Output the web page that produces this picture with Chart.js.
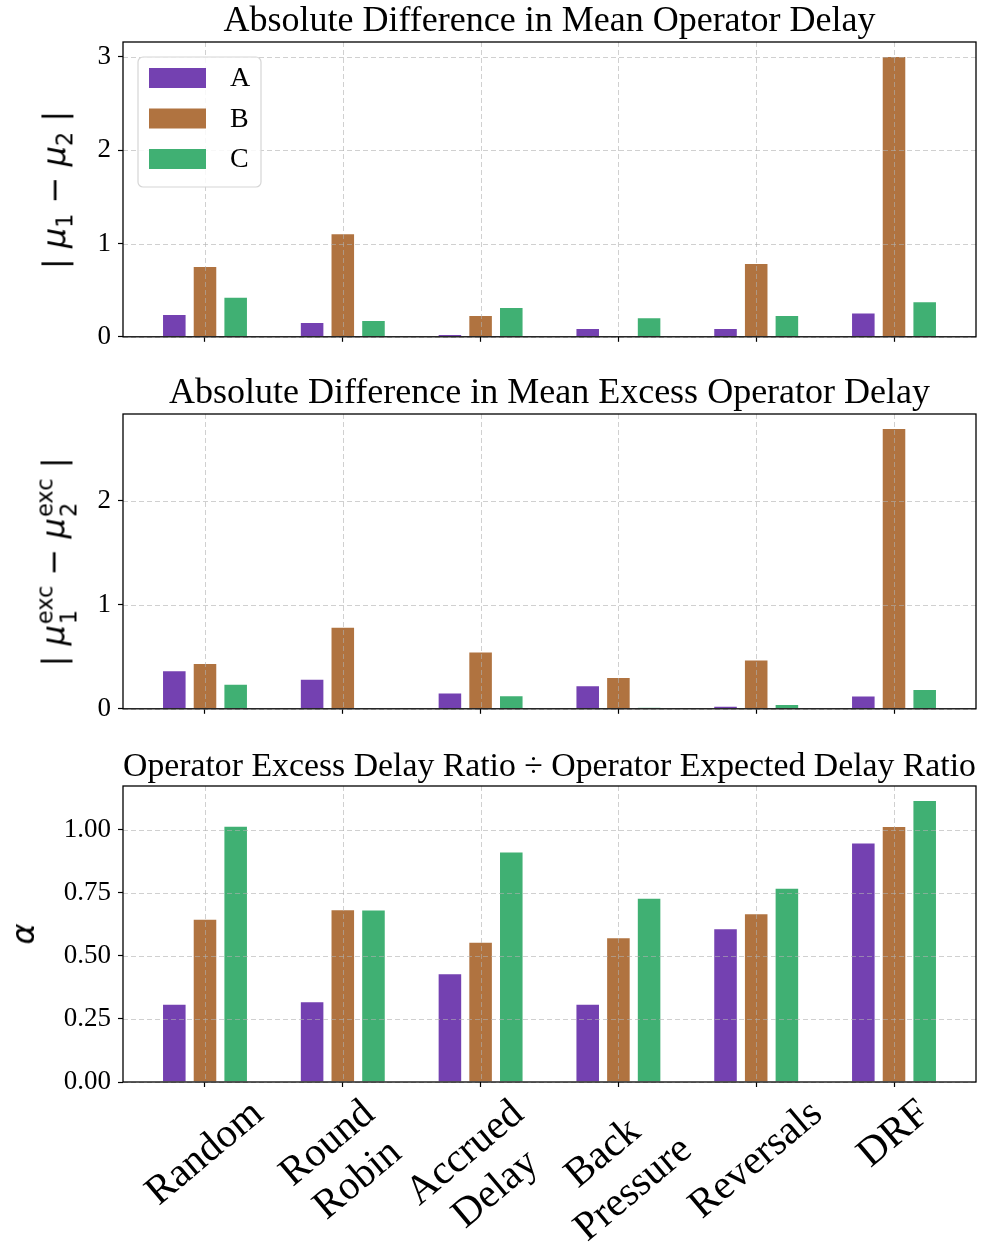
<!DOCTYPE html>
<html lang="en">
<head>
  <meta charset="UTF-8">
  <title>Operator Delay Comparison</title>
  <script src="https://cdn.jsdelivr.net/npm/chart.js"></script>
  <style>
    body {
      margin: 0;
      background: #fff;
    }
    .page {
      position: relative;
      width: 987px;
      height: 1247px;
      overflow: hidden;
    }
    .page canvas {
      position: absolute;
      left: 0;
    }
    .ylabel {
      position: absolute;
      transform: translate(-50%, -50%) rotate(-90deg);
      font-family: 'DejaVu Sans', sans-serif;
      font-size: 32px;
      line-height: 1;
      white-space: nowrap;
      color: #000;
    }
    .ylabel sub {
      font-size: 0.7em;
      vertical-align: -0.3em;
    }
    .ss {
      display: inline-flex;
      flex-direction: column;
      font-size: 0.7em;
      line-height: 1.05;
      vertical-align: 0.55em;
      margin-left: 1px;
    }
  </style>
</head>
<body>
<div class="page">
  <canvas id="chartMean" width="987" height="360" style="top:0"></canvas>
  <canvas id="chartExcess" width="987" height="360" style="top:372px"></canvas>
  <canvas id="chartRatio" width="987" height="503" style="top:744px"></canvas>

  <div class="ylabel" style="left:57px; top:190px">|&nbsp;<i>μ</i><sub>1</sub> − <i>μ</i><sub>2</sub>&nbsp;|</div>
  <div class="ylabel" style="left:57px; top:562px">|&nbsp;<i>μ</i><span class="ss"><span>exc</span><span>1</span></span> − <i>μ</i><span class="ss"><span>exc</span><span>2</span></span>&nbsp;|</div>
  <div class="ylabel" style="left:23px; top:934px"><i>α</i></div>
</div>

<script>
  // categories (multi-line tick labels)
  const categories = [['Random'], ['Round', 'Robin'], ['Accrued', 'Delay'], ['Back', 'Pressure'], ['Reversals'], ['DRF']];
  const seriesNames = ['A', 'B', 'C'];

  // |mu1 - mu2|
  const meanA = [0.245, 0.16, 0.03, 0.095, 0.095, 0.26];
  const meanB = [0.76, 1.11, 0.235, 0.005, 0.79, 3.01];
  const meanC = [0.43, 0.18, 0.32, 0.21, 0.235, 0.38];

  // |mu1^exc - mu2^exc|
  const excessA = [0.37, 0.29, 0.157, 0.227, 0.03, 0.128];
  const excessB = [0.44, 0.79, 0.55, 0.307, 0.474, 2.70];
  const excessC = [0.24, 0, 0.13, 0.016, 0.045, 0.19];

  // alpha
  const ratioA = [0.31, 0.32, 0.431, 0.31, 0.61, 0.95];
  const ratioB = [0.647, 0.685, 0.556, 0.574, 0.669, 1.015];
  const ratioC = [1.016, 0.684, 0.914, 0.731, 0.77, 1.118];

  const colors = ['#7441B1', '#B07340', '#40B073'];
  const serif = "'Liberation Serif', 'Times New Roman', serif";

  // dashed grid drawn on top of the bars + black frame
  const gridOnTop = {
    id: 'gridOnTop',
    afterDatasetsDraw(chart) {
      const { ctx, chartArea: a, scales: { x, y } } = chart;
      ctx.save();
      ctx.strokeStyle = 'rgba(176,176,176,0.6)';
      ctx.lineWidth = 1;
      ctx.setLineDash([5, 3]);
      ctx.beginPath();
      x.ticks.forEach(t => {
        const px = Math.round(x.getPixelForValue(t.value)) + 0.5;
        ctx.moveTo(px, a.top);
        ctx.lineTo(px, a.bottom);
      });
      y.ticks.forEach(t => {
        const py = Math.round(y.getPixelForValue(t.value)) + 0.5;
        ctx.moveTo(a.left, py);
        ctx.lineTo(a.right, py);
      });
      ctx.stroke();
      ctx.setLineDash([]);
      ctx.strokeStyle = '#000';
      ctx.lineWidth = 1.3;
      ctx.strokeRect(a.left, a.top, a.right - a.left, a.bottom - a.top);
      ctx.restore();
    }
  };

  // legend box in the upper left of the first panel
  const boxLegend = {
    id: 'boxLegend',
    afterDraw(chart) {
      const { ctx, chartArea: a } = chart;
      const x0 = a.left + 15, y0 = a.top + 15, w = 123, h = 130;
      ctx.save();
      ctx.beginPath();
      ctx.roundRect(x0, y0, w, h, 5);
      ctx.fillStyle = 'rgba(255,255,255,0.85)';
      ctx.fill();
      ctx.strokeStyle = '#d6d6d6';
      ctx.lineWidth = 1.2;
      ctx.stroke();
      ctx.font = '28px ' + serif;
      ctx.textBaseline = 'middle';
      chart.data.datasets.forEach((ds, i) => {
        const cy = y0 + 21 + i * 40.5;
        ctx.fillStyle = ds.backgroundColor;
        ctx.fillRect(x0 + 11, cy - 10, 57, 20);
        ctx.fillStyle = '#000';
        ctx.fillText(ds.label, x0 + 92, cy + 1);
      });
      ctx.restore();
    }
  };

  // rotated, centred category labels under the last panel
  const rotatedLabels = {
    id: 'rotatedLabels',
    afterDraw(chart) {
      const { ctx, chartArea, scales: { x } } = chart;
      const fs = 41, lh = fs * 1.15, ang = 40 * Math.PI / 180;
      ctx.save();
      ctx.font = fs + 'px ' + serif;
      ctx.fillStyle = '#000';
      ctx.textAlign = 'center';
      ctx.textBaseline = 'middle';
      categories.forEach((lines, i) => {
        const w = Math.max(...lines.map(s => ctx.measureText(s).width));
        const h = lh * (lines.length - 1) + fs * 1.0;
        const boxH = w * Math.sin(ang) + h * Math.cos(ang);
        const cx = x.getPixelForValue(i);
        const cy = chartArea.bottom + 11 + boxH / 2;
        ctx.save();
        ctx.translate(cx, cy);
        ctx.rotate(-ang);
        lines.forEach((s, k) => ctx.fillText(s, 0, (k - (lines.length - 1) / 2) * lh));
        ctx.restore();
      });
      ctx.restore();
    }
  };

  function makeChart(id, title, titleSize, series, yStep, decimals, xAxisHeight, plugins) {
    const yMax = Math.max(...series.flat()) * 1.05;
    return new Chart(document.getElementById(id), {
      type: 'bar',
      data: {
        datasets: series.map((vals, s) => ({
          label: seriesNames[s],
          data: vals.map((v, i) => ({ x: i, y: v })),
          backgroundColor: colors[s],
          borderColor: 'rgba(255,255,255,0.6)',
          borderWidth: 1,
          barPercentage: 0.8,
          categoryPercentage: 0.668
        }))
      },
      options: {
        responsive: false,
        animation: false,
        layout: { padding: { left: 0, right: 11, top: 0, bottom: 0 } },
        plugins: {
          legend: { display: false },
          tooltip: { enabled: false },
          title: {
            display: true,
            text: title,
            fullSize: false,
            color: '#000',
            font: { family: serif, size: titleSize, weight: 'normal', lineHeight: 1 },
            padding: { top: 42 - titleSize - 2, bottom: 2 }
          }
        },
        scales: {
          x: {
            type: 'linear',
            min: -0.595,
            max: 5.595,
            offset: false,
            afterBuildTicks: scale => { scale.ticks = categories.map((_, i) => ({ value: i })); },
            afterFit: scale => { scale.height = xAxisHeight; },
            ticks: { display: false },
            grid: { offset: false, drawOnChartArea: false, drawTicks: true, tickLength: 5, tickColor: '#000', tickWidth: 1.2 },
            border: { display: false }
          },
          y: {
            min: 0,
            max: yMax,
            afterFit: scale => { scale.width = 123; },
            ticks: {
              stepSize: yStep,
              includeBounds: false,
              padding: 7,
              color: '#000',
              font: { family: serif, size: 27 },
              callback: v => v.toFixed(decimals)
            },
            grid: { drawOnChartArea: false, drawTicks: true, tickLength: 5, tickColor: '#000', tickWidth: 1.2 },
            border: { display: false }
          }
        }
      },
      plugins: plugins
    });
  }

  makeChart('chartMean', 'Absolute Difference in Mean Operator Delay', 36,
    [meanA, meanB, meanC], 1, 0, 22, [gridOnTop, boxLegend]);
  makeChart('chartExcess', 'Absolute Difference in Mean Excess Operator Delay', 36,
    [excessA, excessB, excessC], 1, 0, 22, [gridOnTop]);
  makeChart('chartRatio', 'Operator Excess Delay Ratio ÷ Operator Expected Delay Ratio', 34.5,
    [ratioA, ratioB, ratioC], 0.25, 2, 165, [gridOnTop, rotatedLabels]);
</script>
</body>
</html>
